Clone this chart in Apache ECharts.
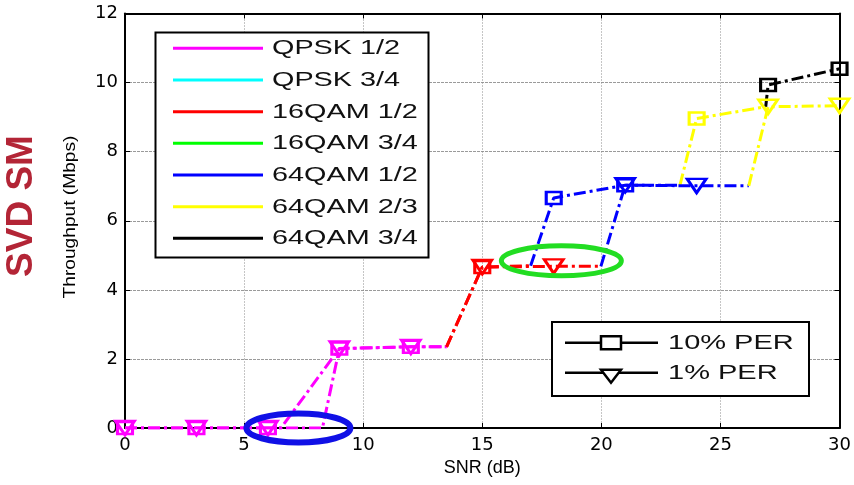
<!DOCTYPE html>
<html>
<head>
<meta charset="utf-8">
<script src="https://cdn.jsdelivr.net/npm/echarts@6/dist/echarts.min.js"></script>
<style>
  html, body { margin: 0; padding: 0; background: #fff; }
  #chart { width: 854px; height: 485px; }
</style>
</head>
<body>
<div id="chart"></div>
<script>
// Axis ticks
const snrTicks = [0, 5, 10, 15, 20, 25, 30];          // SNR (dB)
const throughputTicks = [0, 2, 4, 6, 8, 10, 12];      // Mbps

// Modulation and coding schemes shown in the legend
const schemes = ['QPSK 1/2', 'QPSK 3/4', '16QAM 1/2', '16QAM 3/4', '64QAM 1/2', '64QAM 2/3', '64QAM 3/4'];
const schemeColors = ['#ff00ff', '#00ffff', '#ff0000', '#00ff00', '#0000ff', '#ffff00', '#000000'];

// Throughput at 10% PER, [SNR dB, Mbps]; points off the 3 dB grid are switching points
const per10Qpsk12 = [[0, 0], [3, 0], [6, 0], [6.55, 0], [9, 2.3], [12, 2.35], [13.5, 2.35]];
const per10Qam16_12 = [[13.5, 2.35], [15, 4.66], [17.03, 4.7]];
const per10Qam64_12 = [[17.03, 4.7], [18, 6.66], [21, 7.03], [23.3, 7.03]];
const per10Qam64_23 = [[23.3, 7.03], [24, 8.96], [26.9, 9.3]];
const per10Qam64_34 = [[26.9, 9.3], [27, 9.93], [30, 10.4]];

// Throughput at 1% PER
const per1Qpsk12 = [[0, 0], [3, 0], [6, 0], [8.29, 0], [9, 2.3], [12, 2.35], [13.5, 2.35]];
const per1Qam16_12 = [[13.5, 2.35], [15, 4.66], [18, 4.68], [19.98, 4.68]];
const per1Qam64_12 = [[19.98, 4.68], [21, 7.03], [24, 7.01], [26.19, 7.01]];
const per1Qam64_23 = [[26.19, 7.01], [27, 9.3], [30, 9.33]];

// Highlighted operating regions: [SNR dB, Mbps]
const markRegions = [
  { center: [7.28, 0.0], color: '#1010e6', rx: 52, ry: 14.5, width: 6 },
  { center: [18.32, 4.84], color: '#22dd22', rx: 60, ry: 15, width: 5 }
];

const dashDot = [12, 4, 3, 4];
const markers = {
  per10: { symbol: 'rect', size: [15, 12], rotate: 0 },
  per1: { symbol: 'triangle', size: [19, 14], rotate: 180 }
};

function segment(name, data, color, per) {
  const m = markers[per];
  return {
    name: name,
    type: 'line',
    data: data.map(p => ({ value: p, symbol: (p[0] % 3 === 0) ? m.symbol : 'none' })),
    symbol: m.symbol,
    symbolSize: m.size,
    symbolRotate: m.rotate,
    showAllSymbol: true,
    color: color,
    lineStyle: { color: color, width: 3, type: dashDot },
    itemStyle: { color: 'rgba(0,0,0,0)', borderColor: color, borderWidth: 2.8 },
    emphasis: { disabled: true },
    silent: true,
    z: 3
  };
}

const series = [
  segment('QPSK 1/2 10%', per10Qpsk12, schemeColors[0], 'per10'),
  segment('16QAM 1/2 10%', per10Qam16_12, schemeColors[2], 'per10'),
  segment('64QAM 1/2 10%', per10Qam64_12, schemeColors[4], 'per10'),
  segment('64QAM 2/3 10%', per10Qam64_23, schemeColors[5], 'per10'),
  segment('64QAM 3/4 10%', per10Qam64_34, schemeColors[6], 'per10'),
  segment('QPSK 1/2 1%', per1Qpsk12, schemeColors[0], 'per1'),
  segment('16QAM 1/2 1%', per1Qam16_12, schemeColors[2], 'per1'),
  segment('64QAM 1/2 1%', per1Qam64_12, schemeColors[4], 'per1'),
  segment('64QAM 2/3 1%', per1Qam64_23, schemeColors[5], 'per1')
];

const frameLine = { show: true, onZero: false, lineStyle: { color: '#000', width: 2 } };
const innerTick = { show: true, inside: true, length: 5, lineStyle: { color: '#000', width: 1 } };
const tickFont = { fontSize: 18, fontFamily: 'DejaVu Sans', color: '#000' };

const xRange = { type: 'value', min: snrTicks[0], max: snrTicks[snrTicks.length - 1], interval: snrTicks[1] - snrTicks[0] };
const yRange = { type: 'value', min: throughputTicks[0], max: throughputTicks[throughputTicks.length - 1], interval: throughputTicks[1] - throughputTicks[0] };

const chart = echarts.init(document.getElementById('chart'), null, { renderer: 'canvas' });

chart.setOption({
  animation: false,
  backgroundColor: '#fff',
  grid: { left: 125, right: 10.5, top: 13.5, bottom: 57 },
  xAxis: [
    Object.assign({}, xRange, {
      position: 'bottom',
      axisLine: frameLine, axisTick: innerTick,
      axisLabel: Object.assign({ margin: 8 }, tickFont),
      splitLine: { show: true, lineStyle: { color: '#8a8a8a', width: 1, type: [1, 2] } },
      name: 'SNR (dB)', nameLocation: 'middle', nameGap: 31,
      nameTextStyle: { fontSize: 18, fontFamily: 'Liberation Sans', color: '#000' }
    }),
    Object.assign({}, xRange, {
      position: 'top',
      axisLine: frameLine, axisTick: innerTick,
      axisLabel: { show: false }, splitLine: { show: false }
    })
  ],
  yAxis: [
    Object.assign({}, yRange, {
      position: 'left',
      axisLine: frameLine, axisTick: innerTick,
      axisLabel: Object.assign({ margin: 7 }, tickFont),
      splitLine: { show: true, lineStyle: { color: '#9a9a9a', width: 1, type: [3, 1] } }
    }),
    Object.assign({}, yRange, {
      position: 'right',
      axisLine: frameLine, axisTick: innerTick,
      axisLabel: { show: false }, splitLine: { show: false }
    })
  ],
  series: series
});

// Annotations, legends and titles
const graphics = [];

markRegions.forEach(r => {
  const c = chart.convertToPixel({ gridIndex: 0 }, r.center);
  graphics.push({
    type: 'ellipse', z: 50, silent: true,
    shape: { cx: c[0], cy: c[1], rx: r.rx, ry: r.ry },
    style: { fill: 'none', stroke: r.color, lineWidth: r.width }
  });
});

// Scheme legend
graphics.push({
  type: 'rect', z: 100, silent: true,
  shape: { x: 155.5, y: 32.5, width: 273, height: 225 },
  style: { fill: '#fff', stroke: '#000', lineWidth: 2 }
});
schemes.forEach((s, i) => {
  const y = 48.3 + i * 31.67;
  graphics.push({
    type: 'line', z: 101, silent: true,
    shape: { x1: 173, y1: y, x2: 263, y2: y },
    style: { stroke: schemeColors[i], lineWidth: 3 }
  });
  graphics.push({
    type: 'text', z: 101, silent: true, x: 272, y: y + 0.5, scaleX: 1.44,
    style: { text: s, fontSize: 20, fontFamily: 'Liberation Sans', fill: '#111', align: 'left', verticalAlign: 'middle' }
  });
});

// PER legend
graphics.push({
  type: 'rect', z: 100, silent: true,
  shape: { x: 552, y: 322, width: 257, height: 74 },
  style: { fill: '#fff', stroke: '#000', lineWidth: 2 }
});
[['10% PER', 342.7], ['1% PER', 372.7]].forEach((row, i) => {
  const y = row[1];
  graphics.push({
    type: 'line', z: 101, silent: true,
    shape: { x1: 565, y1: y, x2: 658, y2: y },
    style: { stroke: '#000', lineWidth: 2.5 }
  });
  if (i === 0) {
    graphics.push({
      type: 'rect', z: 102, silent: true,
      shape: { x: 601, y: y - 6.5, width: 20, height: 13 },
      style: { fill: '#fff', stroke: '#000', lineWidth: 2.5 }
    });
  } else {
    graphics.push({
      type: 'polygon', z: 102, silent: true,
      shape: { points: [[601, y - 3], [621, y - 3], [611, y + 10]] },
      style: { fill: '#fff', stroke: '#000', lineWidth: 2.5 }
    });
  }
  graphics.push({
    type: 'text', z: 101, silent: true, x: 668, y: y + 0.5, scaleX: 1.45,
    style: { text: row[0], fontSize: 20, fontFamily: 'Liberation Sans', fill: '#111', align: 'left', verticalAlign: 'middle' }
  });
});

// Vertical titles
graphics.push({
  type: 'text', z: 100, silent: true, x: 70, y: 217, rotation: Math.PI / 2, scaleX: 1.16,
  style: { text: 'Throughput (Mbps)', fontSize: 16.5, fontFamily: 'Liberation Sans', fill: '#000', align: 'center', verticalAlign: 'middle' }
});
graphics.push({
  type: 'text', z: 100, silent: true, x: 22, y: 206, rotation: Math.PI / 2,
  style: { text: 'SVD SM', fontSize: 37, fontWeight: 'bold', fontFamily: 'Liberation Sans', fill: '#b32536', align: 'center', verticalAlign: 'middle' }
});

chart.setOption({ graphic: graphics });
</script>
</body>
</html>
